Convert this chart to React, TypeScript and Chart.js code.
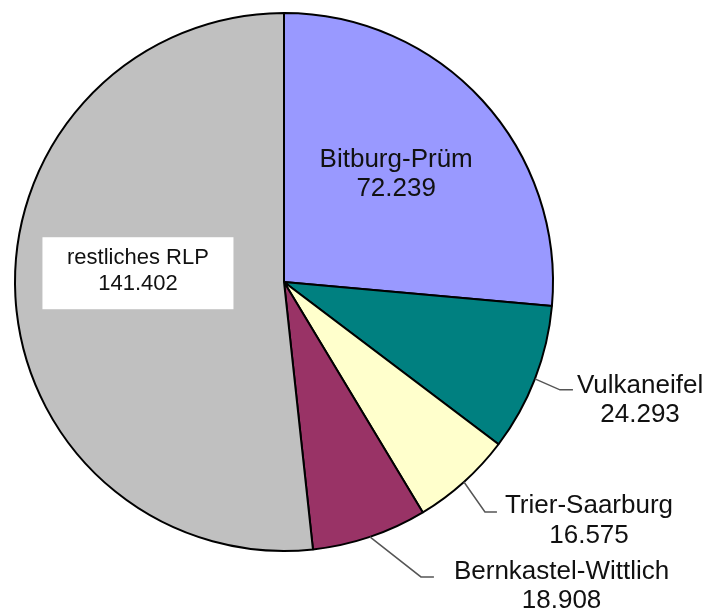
import React, { useEffect, useRef } from 'react';
import { Chart, registerables } from 'chart.js';

Chart.register(...registerables);

// ---- data ----
const categories = ['Bitburg-Prüm', 'Vulkaneifel', 'Trier-Saarburg', 'Bernkastel-Wittlich', 'restliches RLP'];
const values = [72239, 24293, 16575, 18908, 141402];
const sliceColors = ['#9999FF', '#008080', '#FFFFCC', '#993366', '#C0C0C0'];

// ---- label styling (placement relative to each slice) ----
const FAMILY = '"Liberation Sans", Arial, sans-serif';

type InsideCfg = {
  kind: 'inside'; size: number; r: number; dx: number; dy: number; b0: number; line: number;
  box?: { w: number; h: number; dy: number };
};
type OutsideCfg = { kind: 'outside'; size: number; ex: number; ey: number; tail: number; gap: number; base: number; line: number };
const labelCfg: (InsideCfg | OutsideCfg)[] = [
  { kind: 'inside', size: 26, r: 0.56, dx: 1, dy: 1, b0: -14, line: 29 },
  { kind: 'outside', size: 26, ex: 25, ey: 11, tail: 13, gap: 4, base: 3, line: 29 },
  { kind: 'outside', size: 26, ex: 21, ey: 30, tail: 12, gap: 8, base: 1, line: 30 },
  { kind: 'outside', size: 26, ex: 51, ey: 40, tail: 13, gap: 20, base: 2, line: 29 },
  { kind: 'inside', size: 22, r: 0.54, dx: -1, dy: -12.6, b0: -13, line: 26, box: { w: 191, h: 72, dy: -4 } },
];

function fmt(v: number): string {
  const s = String(Math.round(v));
  return s.replace(/\B(?=(\d{3})+(?!\d))/g, '.');
}

const labelPlugin = {
  id: 'sliceLabels',
  afterDatasetsDraw(chart: any) {
    const ctx: CanvasRenderingContext2D = chart.ctx;
    const meta = chart.getDatasetMeta(0);
    meta.data.forEach((arc: any, i: number) => {
      const { x, y, startAngle, endAngle, outerRadius } = arc;
      const mid = (startAngle + endAngle) / 2;
      const cfg = labelCfg[i];
      const lines = [categories[i], fmt(values[i])];
      ctx.save();
      ctx.font = `${cfg.size}px ${FAMILY}`;
      ctx.textAlign = 'center';
      ctx.textBaseline = 'alphabetic';
      if (cfg.kind === 'inside') {
        const cx = x + Math.cos(mid) * outerRadius * cfg.r + cfg.dx;
        const cy = y + Math.sin(mid) * outerRadius * cfg.r + cfg.dy;
        if (cfg.box) {
          ctx.fillStyle = '#FFFFFF';
          ctx.fillRect(cx - cfg.box.w / 2, cy + cfg.box.dy - cfg.box.h / 2, cfg.box.w, cfg.box.h);
        }
        ctx.fillStyle = '#111111';
        lines.forEach((t, k) => ctx.fillText(t, cx, cy + cfg.b0 + k * cfg.line));
      } else {
        const ex = x + Math.cos(mid) * outerRadius;
        const ey = y + Math.sin(mid) * outerRadius;
        const bx = ex + cfg.ex;
        const by = ey + cfg.ey;
        const tx = bx + cfg.tail;
        ctx.strokeStyle = '#555555';
        ctx.lineWidth = 1.5;
        ctx.beginPath();
        ctx.moveTo(ex, ey);
        ctx.lineTo(bx, by);
        ctx.lineTo(tx, by);
        ctx.stroke();
        const w = Math.max(...lines.map((t) => ctx.measureText(t).width));
        const cx = tx + cfg.gap + w / 2;
        ctx.fillStyle = '#111111';
        lines.forEach((t, k) => ctx.fillText(t, cx, by + cfg.base + k * cfg.line));
      }
      ctx.restore();
    });
  },
};

export default function App() {
  const ref = useRef<HTMLCanvasElement | null>(null);
  useEffect(() => {
    if (!ref.current) return;
    const chart = new Chart(ref.current, {
      type: 'pie',
      data: {
        labels: categories,
        datasets: [
          {
            data: values,
            backgroundColor: sliceColors,
            borderColor: '#000000',
            borderWidth: 2,
          },
        ],
      },
      options: {
        animation: false,
        responsive: false,
        devicePixelRatio: 1,
        layout: { padding: { left: 14, top: 12, right: 156, bottom: 57 } },
        plugins: {
          legend: { display: false },
          tooltip: { enabled: false },
        },
      },
      plugins: [labelPlugin],
    });
    return () => chart.destroy();
  }, []);
  return (
    <div style={{ position: 'absolute', left: 0, top: 0, width: 710, height: 609, background: '#fff' }}>
      <canvas ref={ref} width={710} height={609} style={{ width: 710, height: 609 }} />
    </div>
  );
}
